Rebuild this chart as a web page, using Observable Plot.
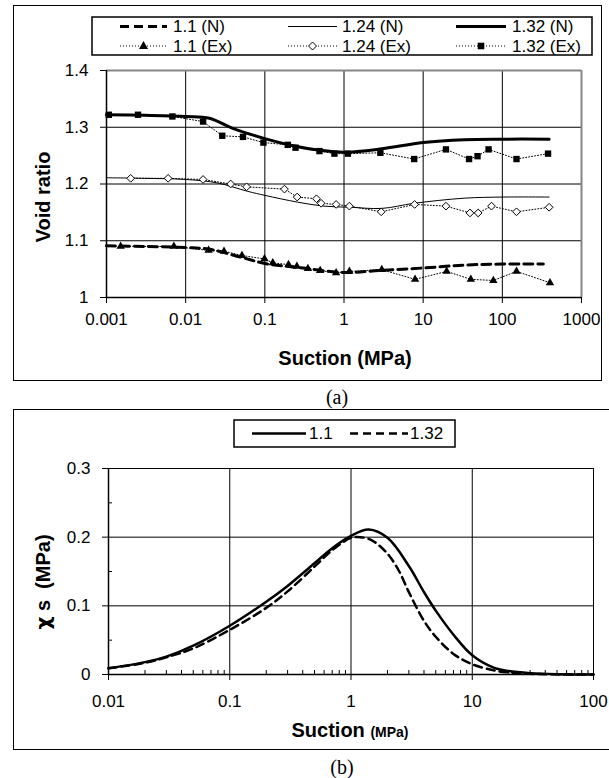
<!DOCTYPE html>
<html><head><meta charset="utf-8">
<script src="https://cdn.jsdelivr.net/npm/d3@7"></script>
<script src="https://cdn.jsdelivr.net/npm/@observablehq/plot@0.6"></script>
<style>
body{margin:0;background:#fff;font-family:"Liberation Sans",Arial,sans-serif;}
#page{position:relative;width:609px;height:778px;overflow:hidden;background:#fff;}
.box{position:absolute;border:1.5px solid #000;box-sizing:border-box;}
.abs{position:absolute;}
.ttl{position:absolute;font-weight:bold;font-size:20px;white-space:nowrap;color:#000;transform:translate(-50%,-50%);}
.rot{transform:translate(-50%,-50%) rotate(-90deg);}
.cap{position:absolute;font-family:"Liberation Serif","Times New Roman",serif;font-size:20px;transform:translate(-50%,-50%);}
</style></head><body>
<div id="page">
  <div class="box" style="left:13px;top:5px;width:589px;height:376px"></div>
  <div id="chartA" class="abs" style="left:0;top:0"></div>
  <div id="legA" class="abs" style="left:0;top:0"></div>
  <div class="ttl rot" style="left:43px;top:197px">Void ratio</div>
  <div class="ttl" style="left:345px;top:358px">Suction (MPa)</div>
  <div class="cap" style="left:337px;top:397px">(a)</div>
  <div class="box" style="left:13px;top:409px;width:610px;height:341px"></div>
  <div id="chartB" class="abs" style="left:0;top:409px"></div>
  <div id="legB" class="abs" style="left:0;top:0"></div>
  <div class="ttl rot" style="left:43px;top:582px"><span style="font-family:'DejaVu Sans',sans-serif">χ</span> s&nbsp; (MPa)</div>
  <div class="ttl" style="left:350px;top:730px">Suction <span style="font-size:14px">(MPa)</span></div>
  <div class="cap" style="left:342px;top:767px">(b)</div>
</div>
<script>
// ---------- Chart (a) data ----------
const suctionTicksA = [0.001, 0.01, 0.1, 1, 10, 100, 1000];
const voidTicksA = [1, 1.1, 1.2, 1.3, 1.4];

const sN110 = [0.001, 0.003, 0.01, 0.02, 0.05, 0.1, 0.3, 1.0, 3, 10, 33, 100, 330];
const eN110 = [1.091, 1.090, 1.088, 1.085, 1.071, 1.060, 1.052, 1.044, 1.048, 1.052, 1.057, 1.059, 1.059];
const sN124 = [0.001, 0.003, 0.01, 0.025, 0.061, 0.1, 0.26, 0.56, 1.2, 3, 7.7, 33, 105, 390];
const eN124 = [1.211, 1.210, 1.208, 1.202, 1.187, 1.180, 1.168, 1.161, 1.159, 1.157, 1.166, 1.175, 1.177, 1.177];
const sN132 = [0.001, 0.003, 0.01, 0.02, 0.038, 0.1, 0.22, 0.47, 1.0, 3, 10, 33, 100, 390];
const eN132 = [1.322, 1.321, 1.319, 1.316, 1.299, 1.280, 1.268, 1.260, 1.256, 1.262, 1.273, 1.278, 1.279, 1.279];

const sEx110 = [0.00151, 0.0071, 0.0195, 0.0305, 0.0514, 0.099, 0.126, 0.199, 0.254, 0.35, 0.50, 0.795, 1.17, 3.0, 7.9, 19.8, 40, 77, 151, 400];
const eEx110 = [1.090, 1.090, 1.083, 1.0815, 1.074, 1.068, 1.061, 1.058, 1.055, 1.051, 1.0475, 1.0435, 1.046, 1.049, 1.032, 1.046, 1.032, 1.030, 1.046, 1.026];
const sEx124 = [0.00202, 0.006, 0.0166, 0.037, 0.0588, 0.177, 0.256, 0.449, 0.514, 0.795, 1.17, 2.95, 7.8, 19.4, 39, 49.5, 73, 151, 390];
const eEx124 = [1.210, 1.210, 1.208, 1.200, 1.195, 1.191, 1.177, 1.174, 1.166, 1.164, 1.161, 1.151, 1.164, 1.161, 1.149, 1.149, 1.161, 1.151, 1.159];
const sEx132 = [0.00107, 0.0025, 0.0068, 0.0166, 0.029, 0.053, 0.096, 0.195, 0.244, 0.49, 0.757, 1.12, 2.88, 7.7, 19.4, 38, 48.6, 67, 151, 378];
const eEx132 = [1.322, 1.322, 1.319, 1.310, 1.285, 1.283, 1.273, 1.269, 1.264, 1.258, 1.2535, 1.2535, 1.255, 1.244, 1.261, 1.244, 1.249, 1.261, 1.244, 1.2535];

// ---------- Chart (b) data ----------
const suctionTicksB = [0.01, 0.1, 1, 10, 100];
const chiTicksB = [0, 0.1, 0.2, 0.3];
const chiMinorB = [0.05, 0.15, 0.25];
const sB = [0.01, 0.02, 0.03, 0.05, 0.1, 0.2, 0.3, 0.5, 0.7, 1.0, 1.4, 2.0, 3.0, 4.0, 5.0, 7.0, 10, 15, 20, 30, 50, 100];
const chi110 = [0.009, 0.018, 0.026, 0.042, 0.071, 0.106, 0.129, 0.162, 0.184, 0.202, 0.211, 0.199, 0.158, 0.120, 0.093, 0.058, 0.028, 0.010, 0.005, 0.002, 0.0005, 0];
const sB2 = [0.01, 0.02, 0.03, 0.05, 0.1, 0.2, 0.3, 0.5, 0.7, 1.0, 1.2, 1.5, 2.0, 2.5, 3.0, 4.0, 5.0, 7.0, 10, 15, 20, 30, 50, 100];
const chi132 = [0.009, 0.017, 0.025, 0.038, 0.065, 0.097, 0.121, 0.157, 0.181, 0.199, 0.200, 0.195, 0.176, 0.150, 0.120, 0.078, 0.055, 0.030, 0.015, 0.006, 0.003, 0.001, 0.0002, 0];

const zip = (xs, ys) => xs.map((x, i) => ({x, y: ys[i]}));
const font = {fontFamily: "'Liberation Sans', Arial, sans-serif", fontSize: "17px", color: "#000", background: "transparent", overflow: "visible"};
const diamond = {draw(ctx, size) { const r = Math.sqrt(size) * 0.66; ctx.moveTo(0, -r); ctx.lineTo(r, 0); ctx.lineTo(0, r); ctx.lineTo(-r, 0); ctx.closePath(); }};

// ---------- Chart (a) ----------
const chartA = Plot.plot({
  width: 609, height: 380,
  marginLeft: 106, marginRight: 28, marginTop: 70, marginBottom: 83,
  style: font,
  x: {type: "log", domain: [0.001, 1000]},
  y: {domain: [1, 1.4]},
  marks: [
    Plot.ruleX(suctionTicksA.slice(1, -1), {stroke: "#000", strokeWidth: 1}),
    Plot.ruleY(voidTicksA.slice(1, -1), {stroke: "#000", strokeWidth: 1}),
    Plot.ruleY([1.4], {stroke: "#858585", strokeWidth: 2}),
    Plot.ruleX([1000], {stroke: "#858585", strokeWidth: 2}),
    Plot.axisX({ticks: suctionTicksA, tickFormat: d => String(d), tickSize: 6, tickPadding: 9, label: null}),
    Plot.axisY({ticks: voidTicksA, tickFormat: d => String(d), tickSize: 6, tickPadding: 12, label: null}),
    Plot.ruleY([1], {stroke: "#000", strokeWidth: 1.5}),
    Plot.ruleX([0.001], {stroke: "#000", strokeWidth: 1.5}),
    Plot.line(zip(sEx110, eEx110), {x: "x", y: "y", stroke: "#000", strokeWidth: 1, strokeDasharray: "1,2"}),
    Plot.line(zip(sEx124, eEx124), {x: "x", y: "y", stroke: "#000", strokeWidth: 1, strokeDasharray: "1,2"}),
    Plot.line(zip(sEx132, eEx132), {x: "x", y: "y", stroke: "#000", strokeWidth: 1, strokeDasharray: "1,2"}),
    Plot.line(zip(sN110, eN110), {x: "x", y: "y", stroke: "#000", strokeWidth: 3, strokeDasharray: "9,5", curve: "catmull-rom"}),
    Plot.line(zip(sN124, eN124), {x: "x", y: "y", stroke: "#000", strokeWidth: 1, curve: "catmull-rom"}),
    Plot.line(zip(sN132, eN132), {x: "x", y: "y", stroke: "#000", strokeWidth: 3, curve: "catmull-rom"}),
    Plot.dot(zip(sEx110, eEx110), {x: "x", y: "y", symbol: "triangle", r: 3.1, fill: "#000", stroke: "none"}),
    Plot.dot(zip(sEx124, eEx124), {x: "x", y: "y", symbol: diamond, r: 3.3, fill: "#fff", stroke: "#000", strokeWidth: 1}),
    Plot.dot(zip(sEx132, eEx132), {x: "x", y: "y", symbol: "square", r: 3.6, fill: "#000", stroke: "none"})
  ]
});
document.getElementById("chartA").appendChild(chartA);

// ---------- Chart (b) ----------
const minorB = [];
for (const d of [0.01, 0.1, 1, 10]) for (let k = 2; k <= 9; k++) minorB.push(d * k);
const chartB = Plot.plot({
  width: 609, height: 341,
  marginLeft: 108, marginRight: 16, marginTop: 59, marginBottom: 76,
  style: font,
  x: {type: "log", domain: [0.01, 100]},
  y: {domain: [0, 0.3]},
  marks: [
    Plot.ruleX(suctionTicksB.slice(1), {stroke: "#000", strokeWidth: 1}),
    Plot.ruleY(chiTicksB.slice(1), {stroke: "#000", strokeWidth: 1}),
    Plot.ruleX(minorB, {stroke: "#000", strokeWidth: 1, insetTop: 202}),
    Plot.ruleY(chiMinorB, {stroke: "#000", strokeWidth: 1, insetRight: 481}),
    Plot.axisX({ticks: suctionTicksB, tickFormat: d => String(d), tickSize: 6, tickPadding: 14, label: null}),
    Plot.axisY({ticks: chiTicksB, tickFormat: d => String(d), tickSize: 6, tickPadding: 12, label: null}),
    Plot.ruleY([0], {stroke: "#000", strokeWidth: 1.5}),
    Plot.ruleX([0.01], {stroke: "#000", strokeWidth: 1.5}),
    Plot.line(zip(sB2, chi132), {x: "x", y: "y", stroke: "#000", strokeWidth: 2.5, strokeDasharray: "8,5", curve: "catmull-rom"}),
    Plot.line(zip(sB, chi110), {x: "x", y: "y", stroke: "#000", strokeWidth: 2.5, curve: "catmull-rom"})
  ]
});
document.getElementById("chartB").appendChild(chartB);

// ---------- Legends ----------
const NS = "http://www.w3.org/2000/svg";
function svgEl(tag, attrs, parent) { const e = document.createElementNS(NS, tag); for (const k in attrs) e.setAttribute(k, attrs[k]); parent.appendChild(e); return e; }
function makeSvg(host) { const s = svgEl("svg", {width: 609, height: 778}, host); s.style.overflow = "visible"; s.setAttribute("font-family", "'Liberation Sans', Arial, sans-serif"); s.setAttribute("font-size", "17"); return s; }

const legA = makeSvg(document.getElementById("legA"));
svgEl("rect", {x: 92, y: 17, width: 500, height: 38, fill: "#fff", stroke: "#000", "stroke-width": 1.5}, legA);
const legNames = ["1.1 (N)", "1.24 (N)", "1.32 (N)", "1.1 (Ex)", "1.24 (Ex)", "1.32 (Ex)"];
const colX = [[120, 167, 173], [288, 337, 342], [456, 506, 512]];
const rowY = [26.5, 46];
const modelStyle = [{w: 3, dash: "9,5"}, {w: 1, dash: null}, {w: 3, dash: null}];
for (let c = 0; c < 3; c++) {
  const [x1, x2, tx] = colX[c];
  const l = svgEl("line", {x1, x2, y1: rowY[0], y2: rowY[0], stroke: "#000", "stroke-width": modelStyle[c].w}, legA);
  if (modelStyle[c].dash) l.setAttribute("stroke-dasharray", modelStyle[c].dash);
  svgEl("text", {x: tx, y: rowY[0], "dominant-baseline": "central"}, legA).textContent = legNames[c];
  svgEl("line", {x1, x2, y1: rowY[1], y2: rowY[1], stroke: "#000", "stroke-width": 1, "stroke-dasharray": "1,2"}, legA);
  const mx = (x1 + x2) / 2, my = rowY[1];
  if (c === 0) svgEl("path", {d: `M${mx},${my - 5}L${mx + 4.5},${my + 3}L${mx - 4.5},${my + 3}Z`, fill: "#000"}, legA);
  if (c === 1) svgEl("path", {d: `M${mx},${my - 4}L${mx + 4},${my}L${mx},${my + 4}L${mx - 4},${my}Z`, fill: "#fff", stroke: "#000"}, legA);
  if (c === 2) svgEl("rect", {x: mx - 3.3, y: my - 3.3, width: 6.6, height: 6.6, fill: "#000"}, legA);
  svgEl("text", {x: tx, y: rowY[1], "dominant-baseline": "central"}, legA).textContent = legNames[c + 3];
}

const legB = makeSvg(document.getElementById("legB"));
svgEl("rect", {x: 234, y: 420, width: 221, height: 27, fill: "#fff", stroke: "#000", "stroke-width": 1.5}, legB);
svgEl("line", {x1: 252, x2: 306, y1: 433.5, y2: 433.5, stroke: "#000", "stroke-width": 2.5}, legB);
svgEl("text", {x: 309, y: 433.5, "dominant-baseline": "central"}, legB).textContent = "1.1";
svgEl("line", {x1: 350, x2: 408, y1: 433.5, y2: 433.5, stroke: "#000", "stroke-width": 2.5, "stroke-dasharray": "8,5"}, legB);
svgEl("text", {x: 410, y: 433.5, "dominant-baseline": "central"}, legB).textContent = "1.32";
</script>
</body></html>
